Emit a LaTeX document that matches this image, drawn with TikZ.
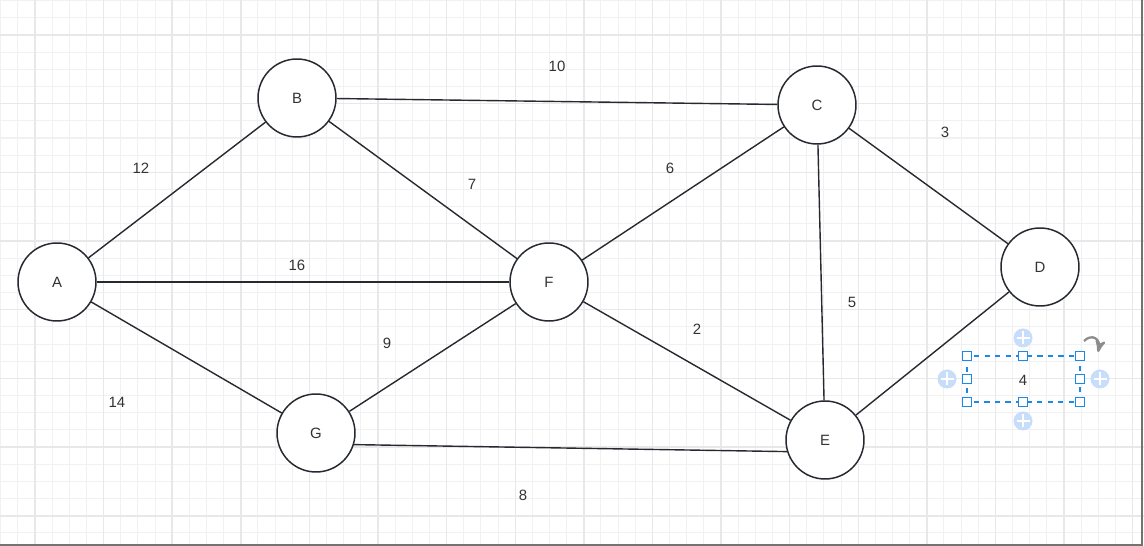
\documentclass[tikz,border=0pt]{standalone}
\usepackage{fontspec}
\setmainfont{Liberation Sans}
\usetikzlibrary{arrows}
\usetikzlibrary{positioning}
\definecolor{gridminor}{HTML}{F1F1F1}
\definecolor{gridmajor}{HTML}{E8E8E8}
\definecolor{selblue}{HTML}{1E88E5}
\definecolor{pluslight}{HTML}{C7DDFA}
\definecolor{inkdark}{HTML}{262A30}
\tikzstyle{vertex}=[circle,draw=inkdark,line width=0.85pt,fill=white,minimum size=1.56cm,inner sep=0pt,font=\fontsize{8.5}{10}\selectfont,text=black!80]
\tikzstyle{weight}=[inner sep=1pt,font=\fontsize{8.5}{10}\selectfont,text=black!80]
\tikzstyle{link}=[draw=inkdark,line width=0.8pt]
\tikzstyle{handle}=[rectangle,draw=selblue,fill=white,line width=0.6pt,minimum size=0.17cm,inner sep=0pt]
\tikzstyle{plusdot}=[circle,fill=pluslight,minimum size=0.38cm,inner sep=0pt,
  path picture={\draw[white,line width=1.3pt] (path picture bounding box.center) +(-0.13cm,0) -- +(0.13cm,0) +(0,-0.13cm) -- +(0,0.13cm);}]

\begin{document}
\begin{tikzpicture}[x=0.02cm,y=-0.02cm]
    \useasboundingbox (0,0) rectangle (1144,546);
    % grid
    \foreach \i in {-2,...,64} {
      \draw[gridminor,line width=0.6pt] ({35+17.15*\i},0) -- ({35+17.15*\i},546);
    }
    \foreach \j in {-2,...,30} {
      \draw[gridminor,line width=0.6pt] (0,{35+17.17*\j}) -- (1144,{35+17.17*\j});
    }
    \foreach \i in {0,...,16} {
      \draw[gridmajor,line width=0.8pt] ({35+68.6*\i},0) -- ({35+68.6*\i},546);
    }
    \foreach \j in {0,...,7} {
      \draw[gridmajor,line width=0.8pt] (0,{35+68.7*\j}) -- (1144,{35+68.7*\j});
    }
    \draw[black!55,line width=1.6pt] (1142,0) -- (1142,545) -- (0,545);
    % graph
    \node[vertex] (A) at (57,282) {A};
    \node[vertex] (B) at (297,98) {B};
    \node[vertex] (C) at (817,105) {C};
    \node[vertex] (D) at (1040,267) {D};
    \node[vertex] (F) at (549,282) {F};
    \node[vertex] (G) at (316,433) {G};
    \node[vertex] (E) at (825,440) {E};
    \draw[link] (A) edge (B);
    \draw[link] (A) edge (F);
    \draw[link] (A) edge (G);
    \draw[link] (B) edge (C);
    \draw[link] (B) edge (F);
    \draw[link] (C) edge (F);
    \draw[link] (C) edge (D);
    \draw[link] (C) edge (E);
    \draw[link] (F) edge (E);
    \draw[link] (F) edge (G);
    \draw[link] (G.-17) edge (E.-163);
    \draw[link] (D) edge (E);
    \node[weight] (wAB) at (141,168) {12};
    \node[weight] (wBC) at (557,66) {10};
    \node[weight] (wBF) at (472,184) {7};
    \node[weight] (wCF) at (670,168) {6};
    \node[weight] (wCD) at (945,132) {3};
    \node[weight] (wAF) at (297,265) {16};
    \node[weight] (wCE) at (852,302) {5};
    \node[weight] (wFE) at (697,329) {2};
    \node[weight] (wFG) at (387,343) {9};
    \node[weight] (wAG) at (117,402) {14};
    \node[weight] (wGE) at (523,495) {8};
    % selected label
    \draw[selblue,dashed,line width=0.6pt] (967,356) rectangle (1080,402);
    \node[weight] (wDE) at (1023,380) {4};
    \foreach \p in {(967,356),(1023,356),(1080,356),(967,379),(1080,379),(967,402),(1023,402),(1080,402)} {
      \node[handle] at \p {};
    }
    \node[plusdot] (Pn) at (1023,338) {};
    \node[plusdot] (Ps) at (1023,421) {};
    \node[plusdot] (Pw) at (947,379) {};
    \node[plusdot] (Pe) at (1100,379) {};
    \draw[->,>=stealth',draw=black!45,line width=1.3pt] (1084,341) .. controls (1092,333) and (1101,339) .. (1098,352);
  \end{tikzpicture}
\end{document}
